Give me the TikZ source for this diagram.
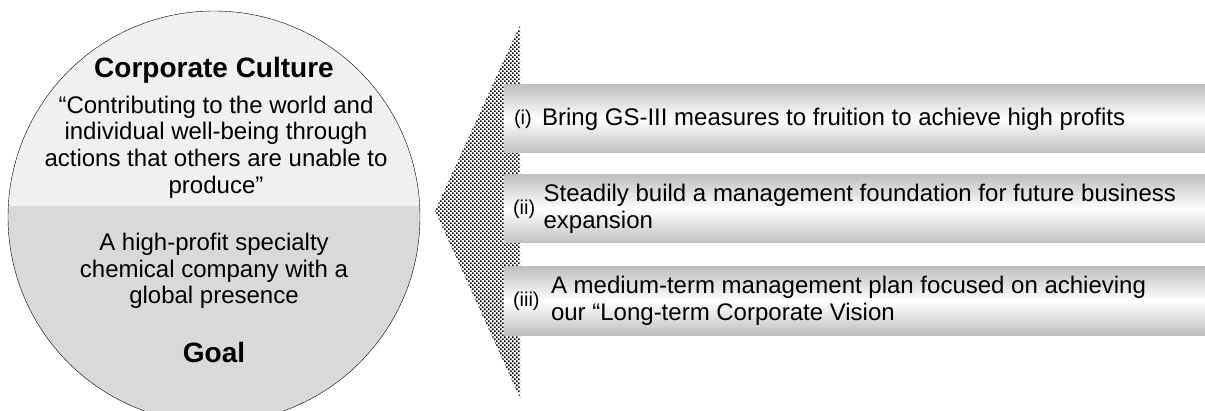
\documentclass[tikz,border=0pt]{standalone}
\usepackage{fontspec}
\setmainfont{Liberation Sans}
\usepackage{tikz}
\usetikzlibrary{patterns}
\usetikzlibrary{positioning}

\definecolor{cultfill}{HTML}{F0F0F0}
\definecolor{goalfill}{HTML}{D9D9D9}

% staggered fine dots for the arrow head
\pgfdeclarepatternformonly{finedots}{\pgfqpoint{-1pt}{-1pt}}{\pgfqpoint{5pt}{5pt}}{\pgfqpoint{4pt}{4pt}}{
  \pgfpathrectangle{\pgfqpoint{0pt}{0pt}}{\pgfqpoint{1.6pt}{1.6pt}}
  \pgfpathrectangle{\pgfqpoint{2pt}{2pt}}{\pgfqpoint{1.6pt}{1.6pt}}
  \pgfusepath{fill}
}

\tikzset{
  bar/.style={minimum width=701pt, minimum height=68pt, inner sep=0pt,
    top color=gray!50, bottom color=gray!50, middle color=white},
  num/.style={font=\fontsize{20}{22}\selectfont, inner sep=0pt},
  item/.style={font=\fontsize{24}{27}\selectfont, align=left, inner sep=0pt},
  circtext/.style={font=\fontsize{24}{26.7}\selectfont, align=center, inner sep=0pt},
  circhead/.style={font=\fontsize{28}{30}\selectfont\bfseries, inner sep=0pt, anchor=base}
}

\begin{document}
\begin{tikzpicture}[x=1pt,y=1pt]
            \useasboundingbox (0,0) rectangle (1205,410);
            % circle, split in two halves
            \begin{scope}
                \clip (214,193) circle (206);
                \fill[cultfill] (0,204) rectangle (430,410);
                \fill[goalfill] (0,-20) rectangle (430,204);
            \end{scope}
            \draw[black, thin] (214,193) circle (206);
            \node[circhead] (culture) at (214,332) {Corporate Culture};
            \node[circtext] (quote) at (216,263) {``Contributing to the world and\\ individual well-being through\\ actions that others are unable to\\ produce''};
            \node[circtext] (aim) at (214,139) {A high-profit specialty\\ chemical company with a\\ global presence};
            \node[circhead] (goal) at (214,48) {Goal};
            % dotted arrow head
            \fill[pattern=finedots] (520,385) -- (435,199) -- (520,12) -- cycle;
            % the three bars
            \node[bar] (bar1) at (854.5,291) {};
            \node[bar] (bar2) at (854.5,201) {};
            \node[bar] (bar3) at (854.5,109) {};
            \node[num, anchor=west] (n1) at ([xshift=10pt]bar1.west) {(i)};
            \node[item, right=10pt of n1] (t1) {Bring GS-III measures to fruition to achieve high profits};
            \node[num, anchor=west] (n2) at ([xshift=9pt]bar2.west) {(ii)};
            \node[item, right=8pt of n2] (t2) {Steadily build a management foundation for future business\\ expansion};
            \node[num, anchor=west] (n3) at ([xshift=9pt]bar3.west) {(iii)};
            \node[item, right=11pt of n3] (t3) {A medium-term management plan focused on achieving\\ our ``Long-term Corporate Vision};
        \end{tikzpicture}
\end{document}
